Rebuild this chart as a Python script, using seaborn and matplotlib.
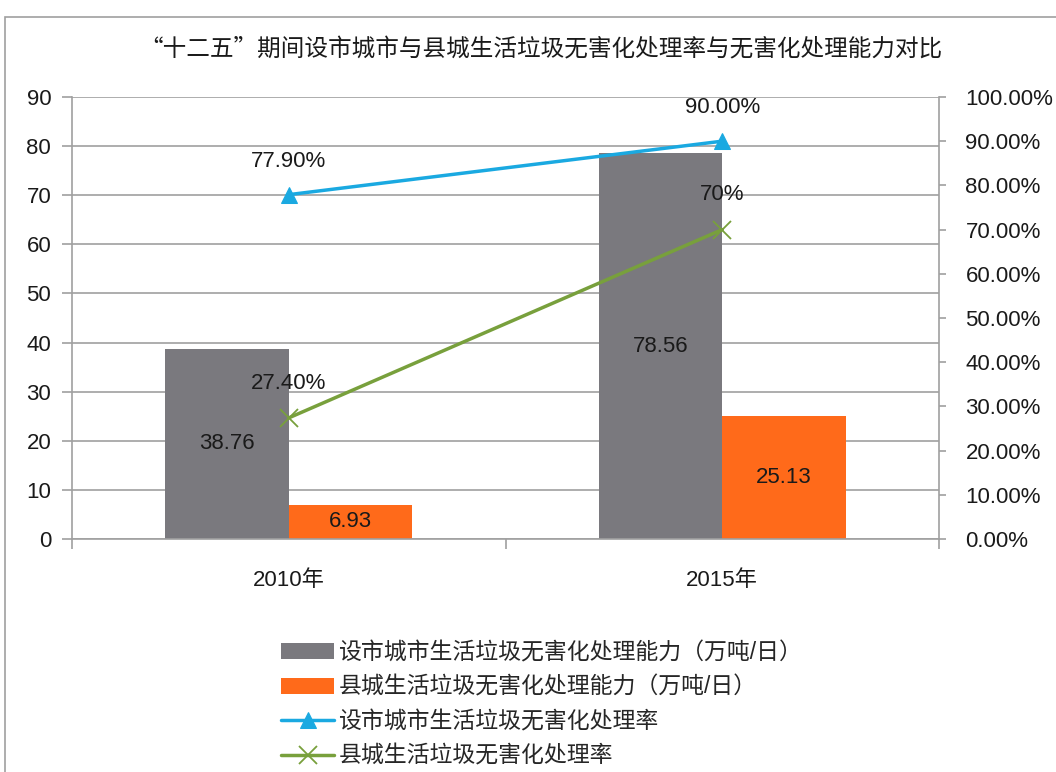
import pandas as pd
import seaborn as sns
import matplotlib.pyplot as plt
from matplotlib.patches import Rectangle
from matplotlib.ticker import FixedLocator

# 数据
years = ['2010年', '2015年']
city_capacity = [38.76, 78.56]      # 设市城市处理能力（万吨/日）
county_capacity = [6.93, 25.13]     # 县城处理能力（万吨/日）
city_rate = [0.779, 0.90]           # 设市城市无害化处理率
county_rate = [0.274, 0.70]         # 县城无害化处理率
city_rate_labels = ['77.90%', '90.00%']
county_rate_labels = ['27.40%', '70%']

name_city_cap = '设市城市生活垃圾无害化处理能力（万吨/日）'
name_county_cap = '县城生活垃圾无害化处理能力（万吨/日）'
name_city_rate = '设市城市生活垃圾无害化处理率'
name_county_rate = '县城生活垃圾无害化处理率'

df = pd.DataFrame({
    '年份': years * 2,
    '能力': city_capacity + county_capacity,
    '类别': [name_city_cap] * 2 + [name_county_cap] * 2,
})

sns.set_style('white')
plt.rcParams['font.family'] = ['Liberation Sans', 'Noto Sans CJK SC']
plt.rcParams['axes.unicode_minus'] = False

grey = '#7a797e'
orange = '#ff6a1a'
blue = '#1aa9e1'
green = '#78a03c'
axis_grey = '#a0a0a0'
text_c = '#1a1a1a'

fig = plt.figure(figsize=(10.56, 7.72), dpi=100)
ax = fig.add_axes([0.0682, 0.3018, 0.8210, 0.5726])

# 外框
fig.add_artist(Rectangle((5 / 1056, -0.05), 1.2, 1.05 - 17 / 772,
                         transform=fig.transFigure, fill=False,
                         edgecolor=axis_grey, linewidth=1.2))

sns.barplot(data=df, x='年份', y='能力', hue='类别',
            palette=[grey, orange], width=0.57, ax=ax, saturation=1,
            linewidth=0, edgecolor='none')
ax.set_ylim(0, 90)
ax.set_yticks(range(0, 91, 10))
ax.set_xlim(-0.5, 1.5)
ax.grid(axis='y', color=axis_grey, linewidth=1.2)
ax.set_axisbelow(True)
ax.set_xlabel('')
ax.set_ylabel('')

for c in ax.containers:
    ax.bar_label(c, label_type='center', fmt='%.2f', fontsize=16, color=text_c)

ax2 = ax.twinx()
sns.lineplot(x=[0, 1], y=city_rate, ax=ax2, color=blue, linewidth=2.5,
             marker='^', markersize=12, markeredgecolor=blue,
             label=name_city_rate, legend=False)
sns.lineplot(x=[0, 1], y=county_rate, ax=ax2, color=green, linewidth=2.5,
             marker='x', markersize=13, markeredgewidth=1.3,
             markeredgecolor=green, label=name_county_rate, legend=False)
ax2.set_ylim(0, 1.0)
ax2.set_yticks([i / 10 for i in range(11)])
ax2.set_yticklabels([f'{i * 10:.2f}%' for i in range(11)])
ax2.set_xlim(-0.5, 1.5)

for i, (v, t) in enumerate(zip(city_rate, city_rate_labels)):
    ax2.annotate(t, (i, v), xytext=(0, 24), textcoords='offset points',
                 ha='center', va='center', fontsize=16, color=text_c)
for i, (v, t) in enumerate(zip(county_rate, county_rate_labels)):
    ax2.annotate(t, (i, v), xytext=(0, 25), textcoords='offset points',
                 ha='center', va='center', fontsize=16, color=text_c)

# 坐标轴样式
for a in (ax, ax2):
    for s in a.spines.values():
        s.set_visible(False)
ax.spines['left'].set_visible(True)
ax.spines['bottom'].set_visible(True)
ax2.spines['right'].set_visible(True)
for s in (ax.spines['left'], ax.spines['bottom'], ax2.spines['right']):
    s.set_color(axis_grey)
    s.set_linewidth(1.2)

ax.tick_params(axis='y', left=True, length=7, width=1.2, color=axis_grey,
               labelsize=16, pad=8, labelcolor=text_c)
ax.tick_params(axis='x', bottom=True, length=0, labelsize=16, pad=22,
               labelcolor=text_c)
ax.xaxis.set_minor_locator(FixedLocator([-0.5, 0.5, 1.5]))
ax.tick_params(axis='x', which='minor', bottom=True, length=7, width=1.2,
               color=axis_grey)
ax2.tick_params(axis='y', right=True, length=5, width=1.2, color=axis_grey,
                labelsize=16, pad=14, labelcolor=text_c)

fig.text(0.512, 1 - 50 / 772, '“十二五”期间设市城市与县城生活垃圾无害化处理率与无害化处理能力对比',
         ha='center', va='center', fontsize=17, color=text_c,
         family=['Noto Sans CJK SC', 'DejaVu Sans'])

# 图例
h1, l1 = ax.get_legend_handles_labels()
h2, l2 = ax2.get_legend_handles_labels()
if ax.get_legend() is not None:
    ax.get_legend().remove()
fig.legend(h1 + h2, l1 + l2, loc='upper left',
           bbox_to_anchor=(272 / 1056, 1 - 632 / 772), frameon=False,
           fontsize=16.5, handlelength=2.3, labelspacing=0.5,
           handletextpad=0.2, borderaxespad=0)

fig.savefig('out.png', dpi=100, facecolor='white')
